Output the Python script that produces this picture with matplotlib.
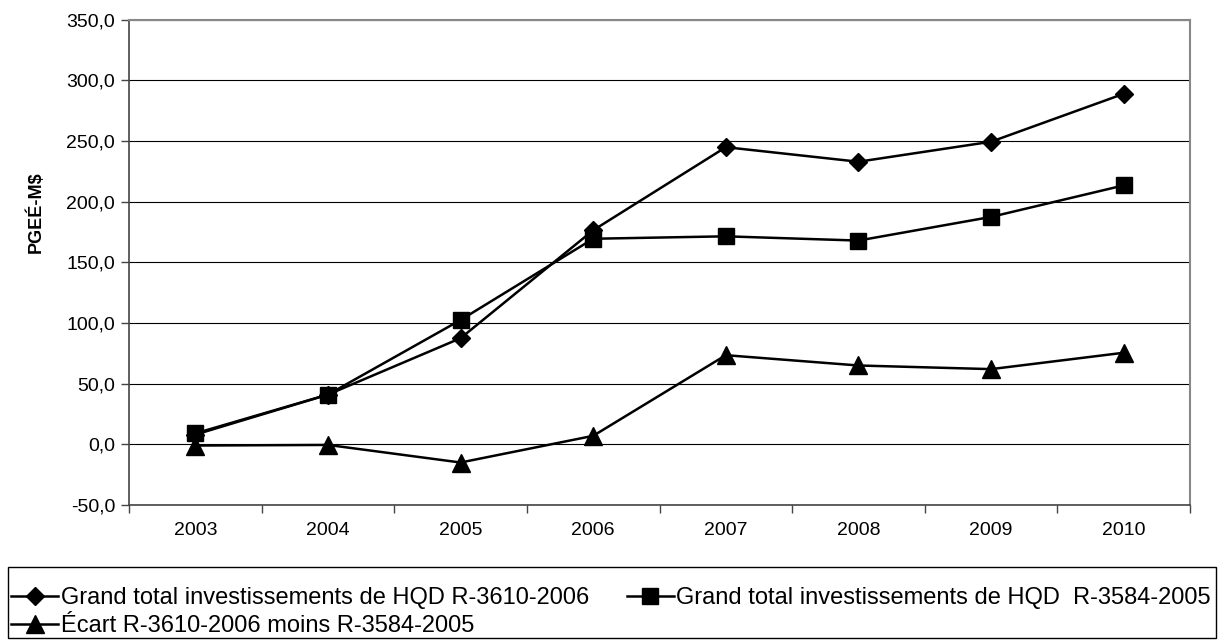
import matplotlib
matplotlib.use("Agg")
import matplotlib.pyplot as plt
from matplotlib.patches import Rectangle
from matplotlib.ticker import FuncFormatter, FixedLocator

# Annual investment totals (M$) for the two filings and their difference
years = ["2003", "2004", "2005", "2006", "2007", "2008", "2009", "2010"]
total_r3610 = [8.0, 41.0, 87.5, 176.5, 245.0, 233.0, 249.5, 289.0]
total_r3584 = [9.0, 41.0, 102.5, 169.5, 171.5, 168.0, 187.5, 213.5]
ecart = [-1.0, -0.5, -15.0, 7.0, 73.5, 65.0, 62.0, 75.5]

label_r3610 = "Grand total investissements de HQD R-3610-2006"
label_r3584 = "Grand total investissements de HQD  R-3584-2005"
label_ecart = "Écart R-3610-2006 moins R-3584-2005"

plt.rcParams["font.family"] = ["Liberation Sans", "DejaVu Sans"]

fig = plt.figure(figsize=(12.23, 6.4), dpi=100)
ax = fig.add_axes([0.1055, 0.211, 0.8675, 0.758])

x = list(range(len(years)))
line_kw = dict(color="black", linewidth=1.8, markerfacecolor="black",
               markeredgecolor="black")
h1, = ax.plot(x, total_r3610, marker="D", markersize=9, label=label_r3610, **line_kw)
h2, = ax.plot(x, total_r3584, marker="s", markersize=11.5, label=label_r3584, **line_kw)
h3, = ax.plot(x, ecart, marker="^", markersize=12.5, label=label_ecart, **line_kw)

ax.set_xlim(-0.5, len(years) - 0.5)
ax.set_ylim(-50, 350)
ax.set_yticks(range(-50, 351, 50))
ax.yaxis.set_major_formatter(FuncFormatter(lambda v, _: f"{v:.1f}".replace(".", ",")))
ax.set_xticks(x)
ax.set_xticklabels(years)
# category boundaries carry the x ticks
ax.xaxis.set_minor_locator(FixedLocator([i - 0.5 for i in range(len(years) + 1)]))
ax.tick_params(axis="x", which="major", length=0, pad=12, labelsize=14)
ax.tick_params(axis="x", which="minor", length=6, width=1, color="#444444")
ax.tick_params(axis="y", length=6, width=1, color="#444444", labelsize=14, pad=4)

ax.grid(axis="y", color="black", linewidth=0.8)
ax.set_axisbelow(True)
for side in ("top", "right"):
    ax.spines[side].set_color("#888888")
    ax.spines[side].set_linewidth(1.5)
for side in ("left", "bottom"):
    ax.spines[side].set_color("#444444")
    ax.spines[side].set_linewidth(1.2)

ax.set_ylabel("PGEÉ-M$", fontsize=13, fontweight="bold")
ax.yaxis.set_label_coords(-0.079, 0.604)

# legend box spans the full width under the plot
fig.add_artist(Rectangle((8 / 1223, 2 / 640), 1208 / 1223, 71 / 640,
                         transform=fig.transFigure, fill=False,
                         edgecolor="black", linewidth=1.0))

# two columns, filled row by row
leg = fig.legend(handles=[h1, h3, h2], loc="upper left",
                 bbox_to_anchor=(11 / 1223, 1 - 587 / 640),
                 ncol=2, fontsize=17, frameon=False, borderpad=0,
                 handlelength=2.0, handletextpad=0.1, columnspacing=1.6,
                 labelspacing=0.25, borderaxespad=0)

fig.savefig("out.png", dpi=100)
